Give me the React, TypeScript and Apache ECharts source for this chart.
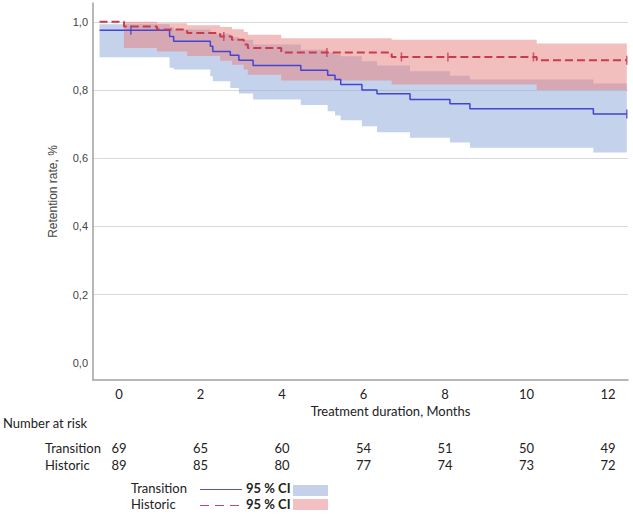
import React, { useEffect, useRef } from "react";
import * as echarts from "echarts";

// ---- Data ----
const xTicks = [0, 2, 4, 6, 8, 10, 12];
const yTicks = [0, 0.2, 0.4, 0.6, 0.8, 1.0];
const gridValues = [0.2, 0.4, 0.6, 0.8, 1.0];
const endTime = 12.46;

// Historic (red dashed)
const histTimes = [-0.48, 0.12, 0.93, 1.67, 2.48, 2.77, 3.06, 3.16, 3.98, 6.69, 10.25];
const histSurv = [1.0, 0.986, 0.977, 0.967, 0.957, 0.947, 0.933, 0.923, 0.91, 0.897, 0.887];
const histUpper = [1.0, 1.0, 0.996, 0.99, 0.985, 0.978, 0.97, 0.962, 0.952, 0.947, 0.936];
const histLower = [1.0, 0.923, 0.913, 0.9, 0.886, 0.874, 0.86, 0.845, 0.828, 0.816, 0.8];
const histCensor = [2.57, 5.1, 6.93, 8.07, 10.17, 12.46];

// Transition (blue solid)
const transTimes = [-0.48, 1.24, 1.34, 2.24, 2.3, 2.73, 2.94, 3.29, 4.46, 5.12, 5.3, 5.44, 5.96, 6.33, 7.14, 8.12, 8.61, 11.64];
const transSurv = [0.975, 0.957, 0.943, 0.928, 0.913, 0.902, 0.887, 0.872, 0.858, 0.843, 0.831, 0.816, 0.8, 0.789, 0.772, 0.76, 0.745, 0.73];
const transUpper = [0.993, 0.985, 0.977, 0.97, 0.965, 0.955, 0.947, 0.933, 0.918, 0.91, 0.905, 0.899, 0.884, 0.872, 0.855, 0.842, 0.831, 0.819];
const transLower = [0.896, 0.865, 0.86, 0.84, 0.826, 0.806, 0.79, 0.772, 0.756, 0.738, 0.725, 0.711, 0.694, 0.676, 0.66, 0.646, 0.631, 0.617];
const transCensor = [0.29, 12.46];

// Number at risk
const riskTimes = [0, 2, 4, 6, 8, 10, 12];
const riskTransition = [69, 65, 60, 54, 51, 50, 49];
const riskHistoric = [89, 85, 80, 77, 74, 73, 72];

const groups = ["Transition", "Historic"];

const BLUE = "#4343d6";
const RED = "#c73c4e";
const BLUE_BAND = "rgba(140,165,215,0.5)";
const RED_BAND = "rgba(230,125,125,0.5)";
const TABLE_FONT = "Lato";
const TEXT = "#222";

function stepValue(times: number[], vals: number[], t: number) {
  let v = vals[0];
  for (let i = 0; i < times.length; i++) if (times[i] <= t) v = vals[i];
  return v;
}

function kmLine(times: number[], surv: number[]) {
  const d = times.map((t, i) => [t, surv[i]]);
  d.push([endTime, surv[surv.length - 1]]);
  return d;
}

function bandSeries(times: number[], lower: number[], upper: number[], color: string, z: number) {
  return {
    type: "custom",
    coordinateSystem: "cartesian2d",
    silent: true,
    z,
    data: [[times[0], upper[0]]],
    encode: { x: 0, y: 1 },
    renderItem: (_params: any, api: any) => {
      const pts: number[][] = [];
      for (let i = 0; i < times.length; i++) {
        const t1 = i + 1 < times.length ? times[i + 1] : endTime;
        pts.push(api.coord([times[i], upper[i]]));
        pts.push(api.coord([t1, upper[i]]));
      }
      for (let i = times.length - 1; i >= 0; i--) {
        const t1 = i + 1 < times.length ? times[i + 1] : endTime;
        pts.push(api.coord([t1, lower[i]]));
        pts.push(api.coord([times[i], lower[i]]));
      }
      return { type: "polygon", shape: { points: pts }, style: { fill: color } };
    },
  };
}

export default function App() {
  const ref = useRef<HTMLDivElement>(null);
  useEffect(() => {
    if (!ref.current) return;
    const chart = echarts.init(ref.current, undefined, { renderer: "svg" });
    const option: any = {
      animation: false,
      backgroundColor: "#ffffff",
      grid: { left: 93, right: 5, top: 3, bottom: 134 },
      xAxis: {
        type: "value",
        min: -0.64,
        max: 12.49,
        axisLine: { show: true, onZero: false, lineStyle: { color: "#a0a0a0", width: 1.5 } },
        axisTick: { show: false },
        splitLine: { show: false },
        axisLabel: { customValues: xTicks, margin: 7, color: TEXT, fontFamily: TABLE_FONT, fontSize: 13 },
        name: "Treatment duration, Months",
        nameLocation: "middle",
        nameGap: 24,
        nameTextStyle: { color: TEXT, fontFamily: TABLE_FONT, fontSize: 13, padding: [0, 0, 0, 60] },
      },
      yAxis: {
        type: "value",
        min: -0.05,
        max: 1.055,
        axisLine: { show: true, onZero: false, lineStyle: { color: "#a0a0a0", width: 1.5 } },
        axisTick: { show: false, customValues: gridValues },
        splitLine: { show: true, lineStyle: { color: "#d9d9d9", width: 1 } },
        axisLabel: {
          customValues: yTicks,
          margin: 5,
          color: "#444",
          fontFamily: "Liberation Sans",
          fontSize: 11,
          formatter: (v: number) => v.toFixed(1).replace(".", ","),
        },
        name: "Retention rate, %",
        nameLocation: "middle",
        nameGap: 34,
        nameTextStyle: { color: "#444", fontFamily: "Liberation Sans", fontSize: 12 },
      },
      series: [
        bandSeries(transTimes, transLower, transUpper, BLUE_BAND, 1),
        bandSeries(histTimes, histLower, histUpper, RED_BAND, 2),
        {
          type: "line",
          name: groups[0],
          step: "end",
          data: kmLine(transTimes, transSurv),
          showSymbol: false,
          z: 3,
          lineStyle: { color: BLUE, width: 1.5 },
        },
        {
          type: "line",
          name: groups[1],
          step: "end",
          data: kmLine(histTimes, histSurv),
          showSymbol: false,
          z: 3,
          lineStyle: { color: RED, width: 2, type: [8, 4] },
        },
        {
          type: "scatter",
          z: 4,
          symbol: "rect",
          symbolSize: [1.5, 9],
          itemStyle: { color: BLUE },
          data: transCensor.map((t) => [t, stepValue(transTimes, transSurv, t)]),
        },
        {
          type: "scatter",
          z: 4,
          symbol: "rect",
          symbolSize: [1.5, 9],
          itemStyle: { color: RED },
          data: histCensor.map((t) => [t, stepValue(histTimes, histSurv, t)]),
        },
      ],
    };
    chart.setOption(option);

    const txt = (text: string, x: number, y: number, align = "left", extra: any = {}) => ({
      type: "text",
      x,
      y,
      style: {
        text,
        fill: TEXT,
        font: `13px ${TABLE_FONT}`,
        textAlign: align,
        textVerticalAlign: "middle",
        ...extra,
      },
    });

    const graphic: any[] = [];
    graphic.push(txt("Number at risk", 3, 423));
    graphic.push(txt(groups[0], 45, 448));
    graphic.push(txt(groups[1], 45, 465));
    riskTimes.forEach((t, i) => {
      const px = chart.convertToPixel({ xAxisIndex: 0 }, t) as number;
      graphic.push(txt(String(riskTransition[i]), px, 448, "center"));
      graphic.push(txt(String(riskHistoric[i]), px, 465, "center"));
    });
    // legend
    graphic.push(txt(groups[0], 131, 488));
    graphic.push(txt(groups[1], 131, 504));
    graphic.push({ type: "line", shape: { x1: 200, y1: 489.5, x2: 242, y2: 489.5 }, style: { stroke: "#5555c8", lineWidth: 1.2 } });
    graphic.push({ type: "line", shape: { x1: 200, y1: 505.5, x2: 242, y2: 505.5 }, style: { stroke: "#c24a62", lineWidth: 1.2, lineDash: [9, 6] } });
    graphic.push(txt("95 % CI", 246, 488, "left", { font: `bold 13px ${TABLE_FONT}` }));
    graphic.push(txt("95 % CI", 246, 504, "left", { font: `bold 13px ${TABLE_FONT}` }));
    graphic.push({ type: "rect", shape: { x: 293, y: 485, width: 35, height: 11 }, style: { fill: "#c5d0e9" } });
    graphic.push({ type: "rect", shape: { x: 293, y: 499, width: 35, height: 11 }, style: { fill: "#f2c0c0" } });
    chart.setOption({ graphic });

    return () => chart.dispose();
  }, []);
  return <div ref={ref} style={{ position: "fixed", left: 0, top: 0, width: 633, height: 514 }} />;
}
